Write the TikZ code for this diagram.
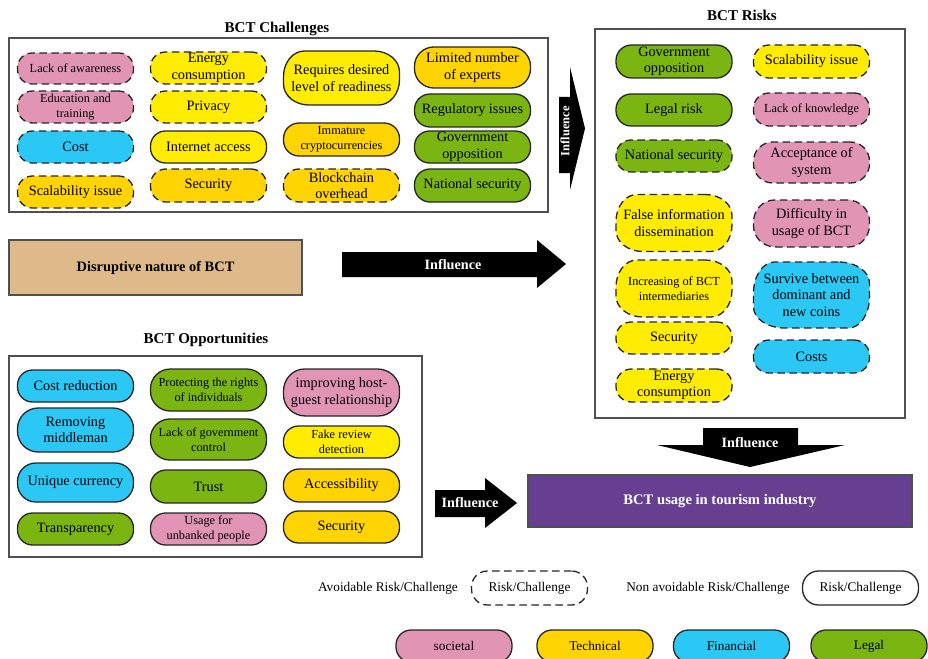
\documentclass[tikz,border=0pt]{standalone}
\usepackage{fontspec}
\setmainfont{Liberation Serif}
\definecolor{socC}{RGB}{225,148,180}
\definecolor{techY}{RGB}{255,236,0}
\definecolor{techG}{RGB}{255,212,0}
\definecolor{finC}{RGB}{44,200,245}
\definecolor{legC}{RGB}{122,181,18}
\definecolor{tanC}{RGB}{222,185,137}
\definecolor{purC}{RGB}{103,63,145}
\definecolor{frameC}{RGB}{80,80,80}
\begin{document}
\begin{tikzpicture}[x=1pt,y=-1pt,
  pill/.style={draw=black!85, line width=1.3pt, fill=#1, minimum width=116pt, inner sep=0pt, align=center, font=\fontsize{14.3}{16.5}\selectfont},
  pillend/.code={\pgfmathsetmacro\ry{0.47*#1}\pgfmathsetmacro\rx{min(\ry,21)}\pgfsetcornersarced{\pgfpoint{\rx pt}{\ry pt}}},
  avoid/.style={dash pattern=on 7.5pt off 4.5pt},
  nonavoid/.style={solid},
  smalltxt/.style={font=\fontsize{12.3}{15}\selectfont},
  normtxt/.style={},
  legtxt/.style={font=\fontsize{13.3}{15}\selectfont},
  boxframe/.style={draw=frameC, line width=1.4pt},
  boxtitle/.style={font=\bfseries\fontsize{15}{17}\selectfont},
  inflabel/.style={text=white, font=\bfseries\fontsize{14.2}{16}\selectfont, inner sep=0pt}]
\useasboundingbox (0,0) rectangle (928,658);
\draw[boxframe] (9,38) rectangle (548,212);
\node[boxtitle] (chaT) at (277,29) {BCT Challenges};
\foreach \nm/\x/\y/\h/\col/\brd/\sz/\txt in {
  chAware/75.5/68.5/31/socC/avoid/smalltxt/Lack of awareness,
  chEdu/75.5/107/32/socC/avoid/smalltxt/Education and\\training,
  chCost/75.5/147/32/finC/avoid/normtxt/Cost,
  chScale/75.5/192/32/techG/avoid/normtxt/Scalability issue,
  chEnergy/208.5/68/32/techY/avoid/normtxt/Energy\\consumption,
  chPriv/208.5/107/32/techY/avoid/normtxt/Privacy,
  chNet/208.5/147/32/techY/nonavoid/normtxt/Internet access,
  chSec/208.5/185.5/33/techG/avoid/normtxt/Security,
  chReady/341.5/78/54/techY/nonavoid/normtxt/Requires desired\\level of readiness,
  chCrypto/341.5/139.5/33/techG/nonavoid/smalltxt/Immature\\cryptocurrencies,
  chOver/341.5/185.5/33/techG/avoid/normtxt/Blockchain\\overhead,
  chExpert/472.5/67.5/41/techG/nonavoid/normtxt/Limited number\\of experts,
  chReg/472.5/110.5/33/legC/nonavoid/normtxt/Regulatory issues,
  chGov/472.5/147/32/legC/nonavoid/normtxt/Government\\opposition,
  chNat/472.5/185.5/33/legC/nonavoid/normtxt/National security} {
  \node[pill=\col, \brd, \sz, pillend=\h, minimum height=\h pt] (\nm) at (\x,\y) {\txt};
}
\node[draw=frameC, line width=1.2pt, fill=tanC, minimum width=293pt, minimum height=55pt, font=\bfseries\fontsize{14.4}{16}\selectfont] (disr) at (155.5,267.5) {Disruptive nature of BCT};
\fill (342,252) -- (537,252) -- (537,240) -- (566,264) -- (537,288) -- (537,277) -- (342,277) -- cycle;
\node[inflabel] (infMid) at (453,265) {Influence};
\fill (559,97) -- (570,97) -- (570,67) -- (585,128.5) -- (570,190) -- (570,173) -- (559,173) -- cycle;
\node[inflabel, rotate=90, font=\bfseries\fontsize{12.5}{14}\selectfont] (infTop) at (565,131) {Influence};
\draw[boxframe] (595,29) rectangle (905,418);
\node[boxtitle] (riskT) at (742,15) {BCT Risks};
\foreach \nm/\x/\y/\h/\col/\brd/\sz/\txt in {
  rkGov/674/61.5/33/legC/nonavoid/normtxt/Government\\opposition,
  rkLegal/674/110/32/legC/nonavoid/normtxt/Legal risk,
  rkNat/674/156/32/legC/avoid/normtxt/National security,
  rkFalse/674/223/57/techY/avoid/normtxt/False information\\dissemination,
  rkInter/674/288.5/57/techY/avoid/smalltxt/Increasing of BCT\\intermediaries,
  rkSec/674/338/32/techY/avoid/normtxt/Security,
  rkEnergy/674/385.5/33/techY/avoid/normtxt/Energy\\consumption,
  rkScale/811.5/61.5/33/techY/avoid/normtxt/Scalability issue,
  rkKnow/811.5/109.5/33/socC/avoid/smalltxt/Lack of knowledge,
  rkAccept/811.5/162.5/41/socC/avoid/normtxt/Acceptance of\\system,
  rkDiff/811.5/223.5/47/socC/avoid/normtxt/Difficulty in\\usage of BCT,
  rkCoins/811.5/295/66/finC/avoid/normtxt/Survive between\\dominant and\\new coins,
  rkCosts/811.5/356.5/33/finC/avoid/normtxt/Costs} {
  \node[pill=\col, \brd, \sz, pillend=\h, minimum height=\h pt] (\nm) at (\x,\y) {\txt};
}
\fill (703,428) -- (798,428) -- (798,445) -- (845,445) -- (750,467) -- (657,445) -- (703,445) -- cycle;
\node[inflabel] (infDown) at (750,443) {Influence};
\draw[boxframe] (9,356) rectangle (422,557);
\node[boxtitle] (oppT) at (206,340) {BCT Opportunities};
\foreach \nm/\x/\y/\h/\col/\brd/\sz/\txt in {
  opCost/75.5/386/32/finC/nonavoid/normtxt/Cost reduction,
  opMiddle/75.5/430/44/finC/nonavoid/normtxt/Removing\\middleman,
  opCurr/75.5/482.5/39/finC/nonavoid/normtxt/Unique currency,
  opTrans/75.5/529/32/legC/nonavoid/normtxt/Transparency,
  opRights/208.5/390/42/legC/nonavoid/smalltxt/Protecting the rights\\of individuals,
  opGov/208.5/439.5/41/legC/nonavoid/smalltxt/Lack of government\\control,
  opTrust/208.5/486.5/33/legC/nonavoid/normtxt/Trust,
  opBank/208.5/529/32/socC/nonavoid/smalltxt/Usage for\\unbanked people,
  opHost/341.5/392.5/47/socC/nonavoid/normtxt/improving host-\\guest relationship,
  opFake/341.5/442/32/techY/nonavoid/smalltxt/Fake review\\detection,
  opAccess/341.5/485.5/33/techG/nonavoid/normtxt/Accessibility,
  opSec/341.5/527/32/techG/nonavoid/normtxt/Security} {
  \node[pill=\col, \brd, \sz, pillend=\h, minimum height=\h pt] (\nm) at (\x,\y) {\txt};
}
\fill (435,490) -- (485,490) -- (485,478) -- (517,503) -- (485,528) -- (485,517) -- (435,517) -- cycle;
\node[inflabel] (infLow) at (470,503) {Influence};
\node[draw=frameC, line width=1.2pt, fill=purC, text=white, minimum width=384pt, minimum height=52pt, font=\bfseries\fontsize{14.6}{16}\selectfont] (usage) at (720,501) {BCT usage in tourism industry};
\node[legtxt] (avT) at (388,588) {Avoidable Risk/Challenge};
\node[pill=white, avoid, legtxt, pillend=34, minimum height=34pt] (avP) at (529.5,588) {Risk/Challenge};
\node[legtxt] (nvT) at (708,588) {Non avoidable Risk/Challenge};
\node[pill=white, nonavoid, legtxt, pillend=34, minimum height=34pt] (nvP) at (860.5,588) {Risk/Challenge};
\foreach \nm/\x/\col/\txt in {socL/454/socC/societal, techL/595/techG/Technical, finL/731.5/finC/Financial, legL/869/legC/Legal} {
  \node[pill=\col, legtxt, pillend=32, minimum height=32pt] (\nm) at (\x,646) {\txt};
}
\end{tikzpicture}
\end{document}
